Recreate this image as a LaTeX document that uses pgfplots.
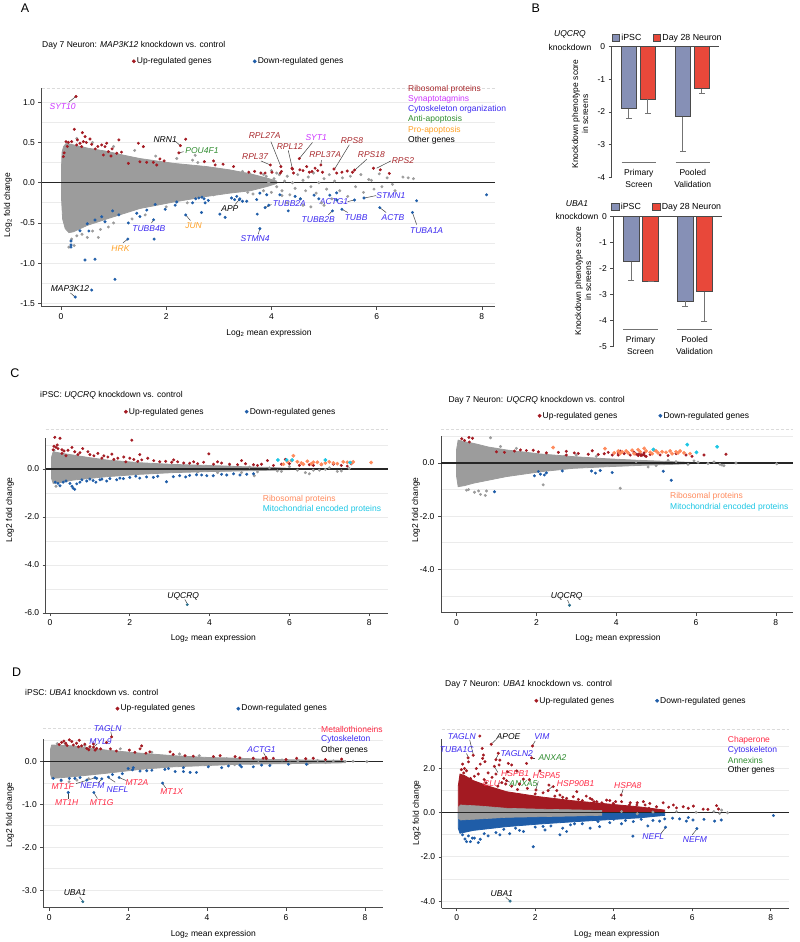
\documentclass[border=0pt]{standalone}
\usepackage{fontspec}
\setmainfont{Liberation Sans}
\setsansfont{Liberation Sans}
\usepackage{pgfplots}
\pgfplotsset{compat=1.18}
\definecolor{upred}{HTML}{A31A22}
\definecolor{downblue}{HTML}{1F5DA8}
\definecolor{cloudgray}{HTML}{9C9C9C}
\definecolor{ribored}{HTML}{A8282C}
\definecolor{sytmag}{HTML}{CC33FF}
\definecolor{cytoblue}{HTML}{3B28F0}
\definecolor{antigreen}{HTML}{2E8B2E}
\definecolor{proorange}{HTML}{FFA024}
\definecolor{ribocoral}{HTML}{FF8A5C}
\definecolor{mitocyan}{HTML}{1CC6E4}
\definecolor{chapred}{HTML}{FF2A45}
\definecolor{barblue}{HTML}{8690B6}
\definecolor{barred}{HTML}{E8483A}
\definecolor{gridgray}{HTML}{EBEBEB}
\definecolor{axisgray}{HTML}{4A4A4A}
\definecolor{kdteal}{HTML}{2B6F8C}
\newcommand{\fs}{\fontsize{8.5}{10}\selectfont}
\newcommand{\fsb}{\fontsize{8.8}{10.4}\selectfont}
\newcommand{\fl}{\fontsize{12.5}{14}\selectfont}
\newcommand{\gap}[1]{\mbox{}\hspace*{#1}\mbox{}}
\tikzset{gl/.style={font=\fs\itshape, inner sep=0.5pt},
  ld/.style={draw=black!75, line width=0.5pt},
  tx/.style={font=\fs, inner sep=0pt},
  dsh/.style={draw=black!14, dashed, dash pattern=on 3pt off 2pt, line width=0.8pt}}
\pgfplotsset{ma/.style={
  scale only axis, clip=false,
  axis x line*=bottom, axis y line*=left,
  axis line style={draw=axisgray, line width=0.9pt, -},
  tick style={draw=axisgray, line width=0.7pt},
  tick align=outside, major tick length=3pt, minor tick length=0pt,
  xtick={0,2,4,6,8}, xticklabels={0,2,4,6,8},
  tick label style={font=\fs},
  ymajorgrids, yminorgrids,
  major grid style={draw=gridgray, line width=0.9pt},
  minor grid style={draw=gridgray, line width=0.9pt},
  legend columns=2,
  legend style={draw=none, fill=none, font=\fs, anchor=west, inner sep=0pt, nodes={inner sep=1.2pt}},
  legend image code/.code={\fill (0pt,0pt) circle (1.7pt);}},
  pt/.style={only marks, mark=*, mark size=1.3pt},
  ptb/.style={only marks, mark=*, mark size=1.7pt},
  bp/.style={scale only axis, clip=false, axis x line*=top, axis y line*=left, xtick=\empty,
  tick align=outside, major tick length=3pt, tick style={draw=axisgray, line width=0.7pt},
  axis line style={draw=axisgray, line width=0.9pt,-}, tick label style={font=\fs},
  ybar, bar width=15.7pt, bar shift=0pt, legend columns=2,
  legend style={draw=none, fill=none, font=\fsb, anchor=west, inner sep=0pt, nodes={inner sep=1.5pt}},
  legend image code/.code={\draw[#1, line width=0.8pt] (-3.6pt,-3.6pt) rectangle (3.6pt,3.6pt);}},
  eb/.style={error bars/.cd, y dir=minus, y explicit, error bar style={draw=black!55, line width=1pt},
  error mark options={rotate=90, mark size=3pt, draw=black!55, line width=1pt}}
}
\begin{document}
\begin{tikzpicture}
\useasboundingbox (0pt,0pt) rectangle (800pt,-942pt);
% ================= PANEL A =================
\begin{axis}[ma, at={(41.5pt,-88pt)}, anchor=north west, width=453.5pt, height=218.7pt,
 xmin=-0.371, xmax=8.25, ymin=-1.54, ymax=1.176,
 ytick={-1.5,-1,-0.5,0,0.5,1}, yticklabels={-1.5,-1.0,-0.5,0.0,0.5,1.0},
 minor ytick={-1.25,-0.75,-0.25,0.25,0.75},
 legend style={at={(0.199,1.122)}}]
\addplot[forget plot, fill=cloudgray, draw=cloudgray, line width=0.8pt] coordinates {
(0.02,0.38) (0.05,0.45) (0.1,0.49) (0.234,0.47) (0.5,0.43) (0.87,0.39) (1.2,0.34) (1.5,0.30) (2.14,0.24) (2.77,0.2) (3.2,0.16) (3.6,0.11) (3.9,0.06) (4.1,0.02)
(4.1,-0.01) (3.9,-0.05) (3.6,-0.1) (3.2,-0.13) (2.77,-0.17) (2.14,-0.24) (1.5,-0.32) (0.87,-0.45) (0.5,-0.53) (0.234,-0.61) (0.15,-0.62) (0.08,-0.57) (0.03,-0.45) (0.01,-0.2) (0.01,0.2)} -- cycle;
\addplot[forget plot, pt, color=cloudgray] coordinates {
(3.6,0.1) (3.7,-0.05) (3.75,0.05) (3.85,-0.1) (3.9,0.08) (3.95,0.0) (4.0,-0.12) (4.05,0.05) (4.1,-0.05) (4.15,0.1) (4.2,-0.1) (4.25,0.02) (4.3,0.08) (4.35,-0.15) (4.4,0.0) (4.45,-0.07) (4.5,0.1) (4.55,-0.2) (4.6,0.03) (4.65,-0.1) (4.7,0.07) (4.75,-0.05) (4.8,0.12) (4.85,-0.13) (4.9,0.0) (4.95,-0.25) (5.0,0.05) (5.05,-0.08) (5.1,0.1) (5.15,-0.2) (5.2,0.02) (5.3,-0.1) (5.35,0.06) (5.45,-0.17) (5.5,0.08) (5.6,-0.05) (5.7,0.1) (5.75,-0.12) (5.85,0.04) (5.95,-0.08) (6.05,0.11) (6.1,-0.05) (6.2,0.06) (6.35,-0.1) (6.5,0.07) (6.6,0.06) (6.7,0.05) (5.9,0.03) (6.3,-0.02) (4.0,0.15) (4.3,-0.25) (4.6,-0.28) (5.0,-0.28) (3.8,0.12) (3.5,0.05) (3.55,-0.12) (3.3,0.12) (3.2,-0.1) (3.0,0.15) (2.9,-0.15) (4.75,-0.3) (3.45,0.14) (3.65,-0.14) (3.85,0.1) (4.1,0.12) (4.2,-0.16)
(0.2,-0.7) (0.25,-0.78) (0.3,-0.66) (0.4,-0.64) (0.6,-0.6) (0.75,-0.58) (1.0,-0.5) (0.15,-0.8) (1.35,-0.45) (1.6,-0.4) (0.5,-0.68) (0.9,-0.55) (0.71,-0.68) (0.3,0.55) (0.6,0.5) (1.0,0.45) (1.4,0.4) (1.8,0.33) (2.2,0.3) (2.5,0.28) (2.55,0.34) (2.6,0.25) (2.4,-0.25) (2.0,-0.3)};
\addplot[forget plot, black!85, line width=1.3pt] coordinates {(-0.371,0) (8.25,0)};
\addplot[pt, color=upred] coordinates {
(0.253,0.663) (0.406,0.621) (0.457,0.572) (0.551,0.543) (0.095,0.51) (0.139,0.502) (0.203,0.51) (0.311,0.531) (0.361,0.49) (0.424,0.51) (0.298,0.469) (0.393,0.448) (0.583,0.477) (0.773,0.469) (0.868,0.49) (0.836,0.448) (0.9,0.386) (0.805,0.344) (0.95,0.332) (1.1,0.531) (1.47,0.49) (1.566,0.448) (1.628,0.253) (1.755,0.253) (1.82,0.22) (1.88,0.295) (1.96,0.27) (1.5,0.26) (1.28,0.24) (1.06,0.365) (0.044,0.324) (0.06,0.37) (2.24,0.37) (2.27,0.46) (2.37,0.54) (2.725,0.261) (2.93,0.22) (3.08,0.23) (2.9,0.27) (3.28,0.2) (3.57,0.13) (3.68,0.14) (3.8,0.12) (3.88,0.12) (3.98,0.22) (4.01,0.13) (4.18,0.2) (4.19,0.14) (4.17,0.12) (4.39,0.18) (4.42,0.12) (4.4,0.17) (4.53,0.3) (4.54,0.16) (4.6,0.15) (4.67,0.20) (4.72,0.13) (4.77,0.14) (4.83,0.18) (4.88,0.15) (4.94,0.22) (4.97,0.13) (5.19,0.17) (5.24,0.12) (5.34,0.13) (5.44,0.145) (5.54,0.13) (5.58,0.157) (5.94,0.18) (6.07,0.16) (6.24,0.115) (0.12,0.45) (0.7,0.45) (0.97,0.42) (1.15,0.38) (0.65,0.42) (0.48,0.5) (0.285,1.07)};
\addlegendentry{Up-regulated genes\gap{40pt}}
\addplot[pt, color=downblue] coordinates {
(0.19,-0.724) (0.19,-0.774) (0.19,-0.80) (0.456,-0.96) (0.646,-0.95) (1.026,-1.2) (0.583,-1.333) (0.27,-1.42) (0.36,-0.597) (0.5,-0.51) (0.53,-0.6) (0.646,-0.463) (0.773,-0.423) (0.836,-0.485) (1.28,-0.5) (1.27,-0.70) (1.44,-0.38) (1.5,-0.42) (1.63,-0.34) (1.79,-0.27) (1.76,-0.46) (1.77,-0.7) (1.98,-0.33) (2.2,-0.24) (2.17,-0.28) (2.37,-0.40) (2.5,-0.25) (2.56,-0.2) (2.62,-0.19) (2.68,-0.18) (2.74,-0.25) (2.67,-0.37) (2.72,-0.2) (2.8,-0.22) (3.02,-0.39) (3.12,-0.43) (3.24,-0.19) (3.3,-0.21) (3.34,-0.17) (3.4,-0.2) (3.39,-0.21) (3.45,-0.23) (3.53,-0.23) (3.72,-0.21) (3.73,-0.39) (3.78,-0.13) (3.78,-0.57) (3.88,-0.31) (3.95,-0.28) (3.91,-0.15) (4.16,-0.15) (4.32,-0.35) (4.45,-0.17) (4.55,-0.2) (4.81,-0.155) (4.9,-0.2) (5.11,-0.155) (5.24,-0.126) (5.24,-0.215) (5.16,-0.35) (5.34,-0.33) (5.58,-0.215) (5.76,-0.19) (6.06,-0.31) (6.68,-0.37) (6.76,-0.224) (8.09,-0.15) (0.98,-0.35) (1.1,-0.4)};
\addlegendentry{Down-regulated genes}
\draw[dsh] (axis cs:-0.371,1.176) -- (axis cs:8.25,1.176);
\node[gl, text=sytmag] at (axis cs:0.03,0.94) {SYT10}; \draw[ld] (axis cs:0.15,1.0) -- (axis cs:0.27,1.065);
\node[gl] at (axis cs:1.98,0.54) {NRN1}; \draw[ld] (axis cs:2.18,0.51) -- (axis cs:2.27,0.46);
\node[gl, text=antigreen] at (axis cs:2.68,0.40) {POU4F1}; \draw[ld] (axis cs:2.33,0.385) -- (axis cs:2.24,0.37);
\node[gl, text=ribored] at (axis cs:3.87,0.58) {RPL27A}; \draw[ld] (axis cs:3.99,0.51) -- (axis cs:4.18,0.2);
\node[gl, text=ribored] at (axis cs:4.35,0.45) {RPL12}; \draw[ld] (axis cs:4.32,0.4) -- (axis cs:4.4,0.17);
\node[gl, text=sytmag] at (axis cs:4.85,0.56) {SYT1}; \draw[ld] (axis cs:4.78,0.5) -- (axis cs:4.53,0.3);
\node[gl, text=ribored] at (axis cs:3.69,0.33) {RPL37}; \draw[ld] (axis cs:3.8,0.27) -- (axis cs:3.98,0.22);
\node[gl, text=ribored] at (axis cs:5.02,0.35) {RPL37A}; \draw[ld] (axis cs:4.95,0.28) -- (axis cs:4.94,0.22);
\node[gl, text=ribored] at (axis cs:5.53,0.52) {RPS8}; \draw[ld] (axis cs:5.48,0.47) -- (axis cs:5.21,0.18);
\node[gl, text=ribored] at (axis cs:5.9,0.355) {RPS18}; \draw[ld] (axis cs:5.81,0.29) -- (axis cs:5.59,0.16);
\node[gl, text=ribored] at (axis cs:6.5,0.28) {RPS2}; \draw[ld] (axis cs:6.27,0.27) -- (axis cs:6.0,0.18);
\node[gl] at (axis cs:3.21,-0.32) {APP}; \draw[ld] (axis cs:3.31,-0.27) -- (axis cs:3.39,-0.21);
\node[gl, text=cytoblue] at (axis cs:4.34,-0.26) {TUBB2A}; \draw[ld] (axis cs:4.0,-0.27) -- (axis cs:3.88,-0.31);
\node[gl, text=cytoblue] at (axis cs:5.19,-0.24) {ACTG1}; \draw[ld] (axis cs:5.45,-0.235) -- (axis cs:5.57,-0.215);
\node[gl, text=cytoblue] at (axis cs:6.27,-0.16) {STMN1}; \draw[ld] (axis cs:5.99,-0.16) -- (axis cs:5.77,-0.19);
\node[gl, text=cytoblue] at (axis cs:4.89,-0.46) {TUBB2B}; \draw[ld] (axis cs:5.08,-0.40) -- (axis cs:5.16,-0.35);
\node[gl, text=cytoblue] at (axis cs:5.61,-0.43) {TUBB}; \draw[ld] (axis cs:5.45,-0.37) -- (axis cs:5.34,-0.33);
\node[gl, text=cytoblue] at (axis cs:6.31,-0.435) {ACTB}; \draw[ld] (axis cs:6.18,-0.37) -- (axis cs:6.06,-0.31);
\node[gl, text=cytoblue] at (axis cs:6.95,-0.59) {TUBA1A}; \draw[ld] (axis cs:6.76,-0.52) -- (axis cs:6.68,-0.37);
\node[gl, text=cytoblue] at (axis cs:3.69,-0.70) {STMN4}; \draw[ld] (axis cs:3.75,-0.64) -- (axis cs:3.78,-0.57);
\node[gl, text=proorange] at (axis cs:2.52,-0.53) {JUN}; \draw[ld] (axis cs:2.46,-0.47) -- (axis cs:2.37,-0.40);
\node[gl, text=cytoblue] at (axis cs:1.67,-0.575) {TUBB4B}; \draw[ld] (axis cs:1.72,-0.5) -- (axis cs:1.76,-0.46);
\node[gl, text=proorange] at (axis cs:1.13,-0.815) {HRK}; \draw[ld] (axis cs:1.18,-0.745) -- (axis cs:1.27,-0.70);
\node[gl] at (axis cs:0.17,-1.31) {MAP3K12}; \draw[ld] (axis cs:0.18,-1.37) -- (axis cs:0.27,-1.42);
\end{axis}
\node[font=\fl] at (25pt,-8pt) {A};
\node[tx, anchor=west] at (42pt,-45pt) {Day 7 Neuron: \textit{MAP3K12} knockdown vs. control};
\node[tx, rotate=90] at (8pt,-205pt) {Log\textsubscript{2} fold change};
\node[tx] at (269pt,-333pt) {Log\textsubscript{2} mean expression};
\node[tx, anchor=west, text=ribored] at (408pt,-89pt) {Ribosomal proteins};
\node[tx, anchor=west, text=sytmag] at (408pt,-99.3pt) {Synaptotagmins};
\node[tx, anchor=west, text=cytoblue] at (408pt,-109.7pt) {Cytoskeleton organization};
\node[tx, anchor=west, text=antigreen] at (408pt,-119.7pt) {Anti-apoptosis};
\node[tx, anchor=west, text=proorange] at (408pt,-130pt) {Pro-apoptosis};
\node[tx, anchor=west] at (408pt,-140.3pt) {Other genes};
% ================= PANEL B top =================
\begin{axis}[bp, at={(611.7pt,-46.7pt)}, anchor=north west, width=107.3pt, height=130.6pt,
 xmin=0, xmax=107.3, ymin=-4, ymax=0, ytick={-4,-3,-2,-1,0}, yticklabels={-4,-3,-2,-1,0},
 legend style={at={(0.0,1.069)}}]
\addplot[fill=barblue, draw=axisgray, line width=0.8pt, eb] coordinates {(17.15,-1.90) +- (0,0.31) (71.15,-2.14) +- (0,1.07)};
\addlegendentry{iPSC\gap{10pt}}
\addplot[fill=barred, draw=axisgray, line width=0.8pt, eb] coordinates {(36.15,-1.61) +- (0,0.45) (90.15,-1.29) +- (0,0.13)};
\addlegendentry{Day 28 Neuron}
\end{axis}
\node[tx, font=\fs\itshape] at (570pt,-34.7pt) {UQCRQ};
\node[tx] at (570pt,-47.3pt) {knockdown};
\node[tx, rotate=90, align=center] at (580pt,-114pt) {Knockdown phenotype score\\in screens};
\draw[draw=black!55, line width=0.9pt] (621.7pt,-162.7pt) -- (656pt,-162.7pt) (675.7pt,-162.7pt) -- (710pt,-162.7pt);
\node[tx, align=center] at (638.8pt,-178.5pt) {Primary\\[1.5pt]Screen};
\node[tx, align=center] at (692.8pt,-178.5pt) {Pooled\\[1.5pt]Validation};
\node[font=\fl] at (535.7pt,-8pt) {B};
% ================= PANEL B bottom =================
\begin{axis}[bp, at={(613.3pt,-216.7pt)}, anchor=north west, width=108.4pt, height=130pt,
 xmin=0, xmax=108.4, ymin=-5, ymax=0, ytick={-5,-4,-3,-2,-1,0}, yticklabels={-5,-4,-3,-2,-1,0},
 bar width=15.6pt, legend style={at={(-0.02,1.077)}}]
\addplot[fill=barblue, draw=axisgray, line width=0.8pt, eb] coordinates {(17.85,-1.73) +- (0,0.72) (71.85,-3.24) +- (0,0.2)};
\addlegendentry{iPSC\gap{10pt}}
\addplot[fill=barred, draw=axisgray, line width=0.8pt, eb] coordinates {(37.2,-2.47) +- (0,0.03) (91.05,-2.88) +- (0,1.16)};
\addlegendentry{Day 28 Neuron}
\end{axis}
\node[tx, font=\fs\itshape] at (577pt,-203.3pt) {UBA1};
\node[tx] at (577pt,-216pt) {knockdown};
\node[tx, rotate=90, align=center] at (583pt,-281pt) {Knockdown phenotype score\\in screens};
\draw[draw=black!55, line width=0.9pt] (623.3pt,-329.3pt) -- (657.7pt,-329.3pt) (677.3pt,-329.3pt) -- (711.7pt,-329.3pt);
\node[tx, align=center] at (640.5pt,-345.3pt) {Primary\\[1.5pt]Screen};
\node[tx, align=center] at (694.5pt,-345.3pt) {Pooled\\[1.5pt]Validation};
% ================= PANEL C left =================
\begin{axis}[ma, at={(45.7pt,-438.3pt)}, anchor=north west, width=342.3pt, height=175pt,
 xmin=-0.108, xmax=8.471, ymin=-6.0125, ymax=1.279,
 ytick={-6,-4,-2,0}, yticklabels={-6.0,-4.0,-2.0,0.0}, minor ytick={-5,-3,-1,1},
 legend style={at={(0.228,1.152)}}]
\addplot[forget plot, fill=cloudgray, draw=cloudgray, line width=0.8pt] coordinates {
(0.04,0.5) (0.08,0.72) (0.3,0.65) (0.585,0.58) (1.0,0.47) (1.42,0.375) (2.26,0.26) (3.09,0.19) (3.93,0.15) (4.76,0.1) (5.6,0.06) (6.1,0.02)
(6.1,-0.02) (5.6,-0.05) (4.76,-0.08) (3.93,-0.11) (3.09,-0.15) (2.26,-0.22) (1.42,-0.32) (0.585,-0.46) (0.3,-0.55) (0.08,-0.6) (0.04,-0.4)} -- cycle;
\addplot[forget plot, pt, color=cloudgray] coordinates {
(5.2,-0.12) (5.5,0.05) (5.7,-0.08) (5.8,-0.1) (6.0,0.1) (6.2,-0.05) (6.4,-0.15) (6.6,-0.05) (6.9,-0.02) (7.0,0.05) (7.2,-0.1) (7.5,0.02) (4.8,-0.15) (5.0,0.08) (5.12,-0.28) (6.5,-0.2) (6.75,-0.05) (7.3,-0.08) (3.7,-0.12) (4.2,-0.15) (4.5,0.12) (0.15,-0.72) (0.1,0.78)};
\addplot[forget plot, black!85, line width=1.3pt] coordinates {(-0.108,0) (8.471,0)};
\addplot[pt, color=upred] coordinates {
(0.12,1.32) (0.25,1.28) (0.1,0.95) (0.15,0.9) (0.2,0.85) (0.3,0.8) (0.35,0.75) (0.45,0.78) (0.55,0.9) (0.62,0.72) (0.75,0.68) (0.82,0.85) (0.95,0.72) (1.0,0.6) (1.1,0.55) (1.2,0.65) (1.35,0.55) (1.45,0.5) (1.55,0.62) (1.7,0.45) (1.85,0.5) (2.05,1.2) (2.1,0.4) (2.25,0.6) (2.3,0.38) (2.45,0.45) (2.6,0.35) (2.75,0.3) (2.9,0.32) (3.05,0.28) (3.2,0.3) (3.35,0.25) (3.5,0.24) (3.7,0.22) (3.85,0.28) (3.98,0.63) (4.1,0.2) (4.3,0.25) (4.5,0.2) (4.7,0.18) (4.9,0.22) (5.1,0.18) (5.3,0.2) (5.45,0.35) (5.6,0.15) (5.8,0.2) (6.0,0.22) (6.25,0.15) (6.5,0.18) (7.1,0.2) (7.3,0.15) (7.55,0.22) (0.4,0.55) (0.7,0.6) (1.3,0.45) (1.6,0.4) (2.0,0.45) (2.2,0.32) (4.8,0.35) (5.2,0.15) (5.9,0.4) (6.6,0.15) (6.8,0.18) (7.45,0.12) (3.6,0.3) (3.1,0.38) (4.2,0.3) (1.9,0.3) (0.3,0.65) (0.08,0.8) (0.18,1.0)};
\addlegendentry{Up-regulated genes\gap{40pt}}
\addplot[pt, color=downblue] coordinates {
(0.13,-0.55) (0.2,-0.6) (0.33,-0.55) (0.5,-0.6) (0.58,-0.8) (0.62,-0.85) (0.67,-0.62) (0.75,-0.55) (0.92,-0.5) (1.08,-0.48) (1.25,-0.45) (1.42,-0.5) (1.5,-0.4) (1.67,-0.45) (1.84,-0.4) (2.0,-0.35) (2.25,-0.38) (2.42,-0.33) (2.59,-0.35) (2.92,-0.53) (3.09,-0.32) (3.25,-0.28) (3.5,-0.27) (3.67,-0.24) (3.93,-0.28) (4.09,-0.28) (4.3,-0.22) (4.43,-0.25) (4.76,-0.25) (4.93,-0.22) (5.1,-0.2) (0.4,-0.5) (0.8,-0.45) (1.15,-0.55) (1.3,-0.42) (1.75,-0.38) (2.15,-0.3) (2.7,-0.3) (3.4,-0.33) (3.8,-0.25) (4.6,-0.2) (0.25,-0.7) (0.55,-0.72) (1.0,-0.42)};
\addlegendentry{Down-regulated genes}
\addplot[forget plot, ptb, color=ribocoral] coordinates {
(6.1,0.55) (5.95,0.3) (6.2,0.3) (6.3,0.25) (6.45,0.32) (6.55,0.22) (6.7,0.28) (6.9,0.25) (7.0,0.3) (7.2,0.22) (7.35,0.3) (7.45,0.28) (7.55,0.25) (7.6,0.3) (6.05,0.35) (6.35,0.2) (6.8,0.2) (7.1,0.25) (8.05,0.27) (5.85,0.2) (6.6,0.28)};
\addplot[forget plot, ptb, color=mitocyan] coordinates {(5.71,0.375) (5.93,0.375) (6.07,0.375) (6.9,0.375) (7.52,0.27)};
\addplot[forget plot, pt, color=kdteal] coordinates {(3.44,-5.65)};
\draw[dsh] (axis cs:-0.108,1.65) -- (axis cs:8.471,1.65);
\node[gl] at (axis cs:3.34,-5.32) {UQCRQ}; \draw[ld] (axis cs:3.38,-5.44) -- (axis cs:3.43,-5.58);
\end{axis}
\node[font=\fl] at (15pt,-373.3pt) {C};
\node[tx, anchor=west] at (40pt,-395.7pt) {iPSC: \textit{UQCRQ} knockdown vs. control};
\node[tx, rotate=90] at (10pt,-510pt) {Log2 fold change};
\node[tx] at (213.3pt,-638.3pt) {Log\textsubscript{2} mean expression};
\node[tx, anchor=west, text=ribocoral] at (262.7pt,-499pt) {Ribosomal proteins};
\node[tx, anchor=west, text=mitocyan] at (262.7pt,-509pt) {Mitochondrial encoded proteins};
% ================= PANEL C right =================
\begin{axis}[ma, at={(441pt,-436.4pt)}, anchor=north west, width=352pt, height=176.3pt,
 xmin=-0.39, xmax=8.43, ymin=-5.628, ymax=1.0,
 ytick={-4,-2,0}, yticklabels={-4.0,-2.0,0.0}, minor ytick={-5,-3,-1,1},
 legend style={at={(0.274,1.117)}}]
\addplot[forget plot, fill=cloudgray, draw=cloudgray, line width=0.8pt] coordinates {
(0.0,0.5) (0.04,0.86) (0.2,0.8) (0.42,0.74) (0.8,0.6) (1.25,0.49) (2.09,0.34) (2.92,0.24) (3.76,0.16) (4.59,0.1) (5.43,0.05) (5.9,0.02)
(5.9,-0.02) (5.43,-0.05) (4.59,-0.09) (3.76,-0.14) (2.92,-0.2) (2.09,-0.33) (1.25,-0.51) (0.42,-0.76) (0.2,-0.85) (0.04,-0.89) (0.0,-0.5)} -- cycle;
\addplot[forget plot, pt, color=cloudgray] coordinates {
(0.85,0.95) (0.3,-1.0) (0.45,-1.1) (0.55,-1.05) (0.6,-1.18) (0.72,-1.22) (0.75,-1.05) (2.17,-0.82) (4.1,-0.95) (6.6,-0.05) (6.65,-0.08) (6.05,0.03) (6.3,-0.02) (5.8,-0.05) (5.5,0.05) (7.0,0.0) (8.02,-0.03) (5.0,-0.1) (5.3,0.1) (4.5,0.05) (4.8,-0.15) (6.7,-0.1) (5.95,0.08) (6.45,0.04) (3.5,0.25) (3.0,0.3) (2.7,0.25) (1.1,0.62) (1.5,0.55) (0.25,-1.02)};
\addplot[forget plot, black!85, line width=1.3pt] coordinates {(-0.39,0) (8.43,0)};
\addplot[pt, color=upred] coordinates {
(0.13,0.91) (0.31,0.96) (0.4,0.93) (0.32,0.79) (0.2,0.85) (1.45,0.45) (1.6,0.49) (1.75,0.47) (1.92,0.48) (2.25,0.38) (2.55,0.4) (2.75,0.44) (2.75,0.3) (2.95,0.38) (3.3,0.33) (3.4,0.46) (3.55,0.32) (3.7,0.35) (3.8,0.4) (4.05,0.3) (4.1,0.45) (4.2,0.35) (4.3,0.38) (4.35,0.3) (4.45,0.4) (4.55,0.28) (4.6,0.35) (4.65,0.3) (4.7,0.38) (4.75,0.25) (4.85,0.32) (5.1,0.3) (5.3,0.28) (5.5,0.35) (5.75,0.3) (5.9,0.25) (6.2,0.3) (6.75,0.33) (1.0,0.42) (1.2,0.4) (2.05,0.42) (3.05,0.36) (3.9,0.3) (4.5,0.33) (4.05,0.38)};
\addlegendentry{Up-regulated genes\gap{40pt}}
\addplot[pt, color=downblue] coordinates {
(0.95,-1.08) (1.95,-0.48) (2.05,-0.32) (2.1,-0.42) (2.2,-0.45) (2.25,-0.37) (2.65,-0.3) (3.38,-0.3) (3.48,-0.38) (3.6,-0.28) (3.9,-0.36) (5.18,-0.31) (5.38,-0.65)};
\addlegendentry{Down-regulated genes}
\addplot[forget plot, ptb, color=ribocoral] coordinates {
(2.42,0.58) (3.72,0.54) (4.1,0.36) (4.15,0.42) (4.25,0.45) (4.3,0.38) (4.4,0.48) (4.45,0.35) (4.55,0.5) (4.6,0.42) (4.7,0.55) (4.75,0.45) (4.85,0.4) (4.9,0.35) (5.0,0.45) (5.05,0.38) (5.15,0.42) (5.25,0.4) (5.35,0.45) (5.4,0.35) (5.5,0.42) (5.55,0.38) (5.7,0.38) (5.85,0.35) (5.6,0.45) (4.95,0.48) (4.05,0.45) (3.95,0.38)};
\addplot[forget plot, pt, color=upred] coordinates {(4.55,0.33) (4.62,0.28) (4.68,0.32) (4.72,0.27)};
\addplot[forget plot, ptb, color=mitocyan] coordinates {(4.93,0.51) (5.78,0.69) (6.01,0.4) (6.53,0.61)};
\addplot[forget plot, pt, color=kdteal] coordinates {(2.83,-5.35)};
\draw[dsh] (axis cs:-0.39,1.27) -- (axis cs:8.43,1.27);
\node[gl] at (axis cs:2.76,-5.03) {UQCRQ}; \draw[ld] (axis cs:2.78,-5.15) -- (axis cs:2.82,-5.28);
\end{axis}
\node[tx, anchor=west] at (448.3pt,-400pt) {Day 7 Neuron: \textit{UQCRQ} knockdown vs. control};
\node[tx, rotate=90] at (416pt,-510pt) {Log2 fold change};
\node[tx] at (618pt,-638.3pt) {Log\textsubscript{2} mean expression};
\node[tx, anchor=west, text=ribocoral] at (670pt,-496.7pt) {Ribosomal proteins};
\node[tx, anchor=west, text=mitocyan] at (670pt,-507.7pt) {Mitochondrial encoded proteins};
% ================= PANEL D left =================
\begin{axis}[ma, at={(43.3pt,-739pt)}, anchor=north west, width=340pt, height=168.7pt,
 xmin=-0.152, xmax=8.466, ymin=-3.411, ymax=0.53,
 ytick={-3,-2,-1,0}, yticklabels={-3.0,-2.0,-1.0,0.0}, minor ytick={-2.5,-1.5,-0.5,0.5},
 legend style={at={(0.212,1.18)}}]
\addplot[forget plot, fill=cloudgray, draw=cloudgray, line width=0.8pt] coordinates {
(0.034,0.3) (0.06,0.39) (0.61,0.37) (1.45,0.27) (2.3,0.2) (3.14,0.14) (3.99,0.1) (4.83,0.08) (5.68,0.05) (7.37,0.03) (7.5,0.02)
(7.5,-0.02) (7.37,-0.03) (5.68,-0.05) (4.83,-0.06) (3.99,-0.09) (3.14,-0.12) (2.3,-0.18) (1.45,-0.27) (0.61,-0.35) (0.06,-0.39) (0.034,-0.3)} -- cycle;
\addplot[forget plot, pt, color=cloudgray] coordinates {
(0.3,-0.45) (0.5,-0.47) (0.7,-0.43) (1.0,-0.4) (4.9,0.05) (5.1,-0.04) (5.3,0.03) (5.6,-0.05) (5.9,0.04) (6.1,-0.03) (6.3,0.02) (6.55,-0.05) (6.8,0.03) (7.0,-0.02) (7.2,0.02) (7.5,0.0) (7.7,0.01) (8.05,0.0) (4.5,0.07) (4.7,-0.07) (0.2,0.42) (0.4,0.42) (0.9,0.38) (1.8,0.3) (2.6,0.22) (3.3,0.18) (3.8,0.14)};
\addplot[forget plot, black!85, line width=1.3pt] coordinates {(-0.152,0) (8.466,0)};
\addplot[pt, color=upred] coordinates {
(0.31,0.45) (0.37,0.48) (0.42,0.43) (0.51,0.51) (0.57,0.47) (0.61,0.39) (0.69,0.43) (0.74,0.35) (0.82,0.37) (0.9,0.41) (0.95,0.31) (1.03,0.35) (1.12,0.41) (1.16,0.27) (1.2,0.31) (1.45,0.45) (2.03,0.27) (2.17,0.22) (2.3,0.3) (2.34,0.37) (2.45,0.2) (2.55,0.23) (3.06,0.23) (3.14,0.17) (3.44,0.14) (3.65,0.13) (4.16,0.12) (4.33,0.14) (4.71,0.12) (4.83,0.09) (5.17,0.08) (5.42,0.08) (5.49,0.1) (5.68,0.08) (6.27,0.08) (6.69,0.08) (7.41,0.06) (1.55,0.3) (1.7,0.25) (0.25,0.4) (0.45,0.38) (1.3,0.3) (1.0,0.28) (5.5,0.07) (6.0,0.05) (6.5,0.07) (7.0,0.05) (0.76,0.5) (1.58,0.58) (1.12,0.34)};
\addlegendentry{Up-regulated genes\gap{40pt}}
\addplot[pt, color=downblue] coordinates {
(0.1,-0.39) (0.51,-0.39) (0.65,-0.39) (0.78,-0.37) (0.95,-0.43) (1.16,-0.37) (1.33,-0.4) (1.5,-0.36) (1.77,-0.37) (2.87,-0.5) (0.48,-0.72) (1.13,-0.72) (2.0,-0.16) (2.11,-0.19) (2.13,-0.14) (2.47,-0.21) (2.93,-0.18) (3.02,-0.16) (3.19,-0.23) (3.4,-0.14) (3.4,-0.23) (3.57,-0.25) (3.73,-0.25) (4.03,-0.12) (4.37,-0.14) (4.54,-0.1) (4.83,-0.08) (4.87,-0.12) (5.17,-0.12) (5.38,-0.08) (5.59,-0.09) (6.06,-0.06) (6.52,-0.06) (0.3,-0.43) (1.2,-0.39) (1.6,-0.3) (1.85,-0.28) (2.3,-0.22) (2.6,-0.2)};
\addlegendentry{Down-regulated genes}
\addplot[forget plot, pt, color=kdteal] coordinates {(0.85,-3.27)};
\draw[dsh] (axis cs:-0.152,0.78) -- (axis cs:8.466,0.78);
\node[gl, text=cytoblue] at (axis cs:1.48,0.78) {TAGLN}; \draw[ld] (axis cs:1.56,0.7) -- (axis cs:1.58,0.6);
\node[gl, text=cytoblue] at (axis cs:1.3,0.48) {MYL9}; \draw[ld] (axis cs:1.22,0.42) -- (axis cs:1.13,0.35);
\node[gl, text=cytoblue] at (axis cs:5.38,0.29) {ACTG1}; \draw[ld] (axis cs:5.43,0.21) -- (axis cs:5.49,0.11);
\node[gl, text=chapred] at (axis cs:0.34,-0.58) {MT1F}; \draw[ld] (axis cs:0.68,-0.51) -- (axis cs:1.15,-0.38);
\node[gl, text=chapred] at (axis cs:0.44,-0.95) {MT1H}; \draw[ld] (axis cs:0.48,-0.86) -- (axis cs:0.48,-0.74);
\node[gl, text=cytoblue] at (axis cs:1.09,-0.56) {NEFM}; \draw[ld] (axis cs:1.24,-0.49) -- (axis cs:1.32,-0.42);
\node[gl, text=chapred] at (axis cs:1.33,-0.95) {MT1G}; \draw[ld] (axis cs:1.22,-0.86) -- (axis cs:1.14,-0.74);
\node[gl, text=cytoblue] at (axis cs:1.73,-0.64) {NEFL}; \draw[ld] (axis cs:1.67,-0.48) -- (axis cs:1.51,-0.38);
\node[gl, text=chapred] at (axis cs:2.22,-0.49) {MT2A}; \draw[ld] (axis cs:1.95,-0.44) -- (axis cs:1.79,-0.38);
\node[gl, text=chapred] at (axis cs:3.1,-0.7) {MT1X}; \draw[ld] (axis cs:2.95,-0.61) -- (axis cs:2.88,-0.52);
\node[gl] at (axis cs:0.65,-3.07) {UBA1}; \draw[ld] (axis cs:0.77,-3.16) -- (axis cs:0.84,-3.24);
\end{axis}
\node[font=\fl] at (16.7pt,-672.3pt) {D};
\node[tx, anchor=west] at (25pt,-692.3pt) {iPSC: \textit{UBA1} knockdown vs. control};
\node[tx, rotate=90] at (10pt,-815pt) {Log2 fold change};
\node[tx] at (213.3pt,-934.3pt) {Log\textsubscript{2} mean expression};
\node[tx, anchor=west, text=chapred] at (321pt,-729.3pt) {Metallothioneins};
\node[tx, anchor=west, text=cytoblue] at (321pt,-739.7pt) {Cytoskeleton};
\node[tx, anchor=west] at (321pt,-750pt) {Other genes};
% ================= PANEL D right =================
\begin{axis}[ma, at={(441.7pt,-739pt)}, anchor=north west, width=347.6pt, height=169.3pt,
 xmin=-0.382, xmax=8.474, ymin=-4.326, ymax=3.335,
 ytick={-4,-2,0,2}, yticklabels={-4.0,-2.0,0.0,2.0}, minor ytick={-3,-1,1,3},
 legend style={at={(0.266,1.226)}}]
\addplot[forget plot, fill=upred, draw=upred, line width=0.8pt] coordinates {
(0.04,0) (0.04,1.2) (0.084,1.75) (0.2,1.68) (0.424,1.45) (0.85,1.18) (1.27,0.95) (2.12,0.72) (2.97,0.54) (3.82,0.4) (4.67,0.26) (5.3,0.12) (5.3,0)} -- cycle;
\addplot[forget plot, fill=downblue, draw=downblue, line width=0.8pt] coordinates {
(0.04,0) (0.04,-0.7) (0.084,-0.93) (0.424,-0.8) (1.27,-0.63) (2.12,-0.51) (2.97,-0.41) (3.82,-0.32) (4.67,-0.23) (5.3,-0.12) (5.3,0)} -- cycle;
\addplot[forget plot, fill=cloudgray, draw=cloudgray, line width=0.6pt] coordinates {
(0.04,0.25) (0.1,0.35) (0.6,0.3) (1.27,0.2) (2.12,0.16) (2.97,0.13) (3.7,0.1) (3.7,-0.12) (2.97,-0.15) (2.12,-0.18) (1.27,-0.21) (0.6,-0.28) (0.1,-0.33) (0.04,-0.25)} -- cycle;
\addplot[forget plot, pt, color=cloudgray] coordinates {(6.75,0.12) (6.7,-0.03) (6.55,0.05) (6.9,0.0) (5.6,0.05) (6.1,0.02) (4.2,0.05) (4.6,-0.05) (5.0,0.03)};
\addplot[forget plot, black!85, line width=1.3pt] coordinates {(-0.382,0) (8.474,0)};
\addplot[pt, color=upred] coordinates {
(0.59,3.47) (0.88,3.1) (1.93,3.02) (0.42,2.6) (0.29,2.48) (1.0,2.4) (1.91,2.48) (0.65,2.91) (0.68,2.61) (0.66,2.46) (0.72,2.31) (1.06,2.69) (1.1,2.38) (1.08,2.16) (1.315,2.23) (1.4,2.16) (1.78,2.23) (0.96,2.1) (1.53,1.89) (1.7,1.52) (2.12,1.89) (2.02,1.03) (2.33,1.0) (2.46,1.18) (2.63,0.8) (2.97,0.72) (3.06,0.95) (3.4,0.65) (3.57,0.5) (3.82,0.57) (3.99,0.42) (4.19,0.8) (4.2,0.5) (4.42,0.45) (4.59,0.35) (4.755,0.5) (4.92,0.42) (5.09,0.27) (5.26,0.45) (5.52,0.35) (5.77,0.27) (6.03,0.3) (6.28,0.16) (6.62,0.32) (6.67,0.17) (1.15,1.36) (1.27,1.45) (0.15,2.2) (0.2,2.0) (0.3,2.3) (0.25,1.9) (0.5,2.0) (0.55,1.75) (0.6,2.2) (0.8,1.8) (0.9,1.6) (1.0,1.75) (1.2,1.55) (1.25,1.3) (1.4,1.2) (1.6,1.3) (1.8,1.1) (2.2,0.9) (2.5,0.75) (2.8,0.65) (3.2,0.55) (0.7,1.5) (0.35,1.55) (1.3,1.85) (1.85,1.5) (2.35,1.25) (3.5,0.5) (3.7,0.45) (4.4,0.35) (4.9,0.2) (5.4,0.25) (5.9,0.2) (6.4,0.15) (2.55,1.0) (3.1,0.6) (3.3,0.75) (3.9,0.55) (4.6,0.45) (0.12,1.95) (0.18,1.8) (0.45,1.65) (0.75,1.35) (1.05,1.2) (1.55,1.05) (2.0,0.85) (2.7,0.7) (3.45,0.6) (4.05,0.5) (4.8,0.35) (5.6,0.22)};
\addlegendentry{Up-regulated genes\gap{40pt}}
\addplot[pt, color=downblue] coordinates {
(0.21,-1.19) (0.25,-1.31) (0.35,-1.31) (0.45,-1.15) (0.55,-1.35) (0.3,-1.05) (1.95,-1.54) (2.63,-1.0) (2.25,-0.78) (2.8,-0.85) (3.64,-0.63) (4.49,-1.06) (4.87,-0.6) (5.17,-0.38) (5.32,-0.66) (5.68,-0.28) (5.85,-0.38) (6.02,-0.33) (6.12,-0.72) (6.57,-0.38) (6.74,-0.33) (8.07,-0.13) (1.0,-0.9) (1.2,-0.75) (1.5,-0.7) (1.7,-0.85) (2.0,-0.65) (2.4,-0.6) (2.9,-0.55) (3.2,-0.5) (3.4,-0.7) (3.9,-0.45) (4.2,-0.5) (4.5,-0.4) (4.7,-0.3) (5.0,-0.35) (5.5,-0.25) (0.4,-1.15) (0.6,-1.2) (0.8,-1.05) (1.1,-1.0) (1.35,-0.95) (2.7,-0.7) (3.6,-0.4) (4.0,-0.3) (5.9,-0.22) (6.3,-0.3) (0.15,-1.0) (0.7,-0.95) (1.6,-0.8) (2.2,-0.62) (3.0,-0.5) (4.3,-0.35) (5.3,-0.28)};
\addlegendentry{Down-regulated genes}
\addplot[forget plot, pt, color=kdteal] coordinates {(1.36,-4.0)};
\draw[dsh] (axis cs:-0.382,3.77) -- (axis cs:8.474,3.77);
\node[gl, text=cytoblue] at (axis cs:0.13,3.44) {TAGLN}; \draw[ld] (axis cs:0.33,3.3) -- (axis cs:0.42,2.65);
\node[gl, text=cytoblue] at (axis cs:0.0,2.84) {TUBA1C}; \draw[ld] (axis cs:0.25,2.68) -- (axis cs:0.29,2.53);
\node[gl] at (axis cs:1.32,3.44) {APOE}; \draw[ld] (axis cs:1.01,3.32) -- (axis cs:0.9,3.14);
\node[gl, text=cytoblue] at (axis cs:2.17,3.44) {VIM}; \draw[ld] (axis cs:2.0,3.25) -- (axis cs:1.94,3.06);
\node[gl, text=cytoblue] at (axis cs:1.53,2.69) {TAGLN2}; \draw[ld] (axis cs:1.05,2.6) -- (axis cs:1.0,2.44);
\node[gl, text=antigreen] at (axis cs:2.44,2.5) {ANXA2}; \draw[ld] (axis cs:2.0,2.48) -- (axis cs:1.94,2.48);
\node[gl, text=chapred] at (axis cs:1.49,1.78) {HSPB1}; \draw[ld] (axis cs:1.05,1.82) -- (axis cs:0.97,2.06);
\node[gl, text=chapred] at (axis cs:0.89,1.3) {CLU}; \draw[ld] (axis cs:1.06,1.33) -- (axis cs:1.13,1.35);
\node[gl, text=antigreen] at (axis cs:1.7,1.33) {ANXA5}; \draw[ld] (axis cs:1.36,1.38) -- (axis cs:1.29,1.43);
\node[gl, text=chapred] at (axis cs:2.29,1.66) {HSPA5}; \draw[ld] (axis cs:2.08,1.42) -- (axis cs:2.02,1.07);
\node[gl, text=chapred] at (axis cs:3.03,1.3) {HSP90B1}; \draw[ld] (axis cs:2.44,1.19) -- (axis cs:2.34,1.04);
\node[gl, text=chapred] at (axis cs:4.36,1.25) {HSPA8}; \draw[ld] (axis cs:4.24,1.06) -- (axis cs:4.2,0.84);
\node[gl, text=cytoblue] at (axis cs:5.01,-1.08) {NEFL}; \draw[ld] (axis cs:5.2,-0.95) -- (axis cs:5.31,-0.7);
\node[gl, text=cytoblue] at (axis cs:6.07,-1.2) {NEFM}; \draw[ld] (axis cs:6.0,-1.0) -- (axis cs:6.11,-0.76);
\node[gl] at (axis cs:1.15,-3.68) {UBA1}; \draw[ld] (axis cs:1.25,-3.83) -- (axis cs:1.34,-3.97);
\end{axis}
\node[tx, anchor=west] at (445pt,-684pt) {Day 7 Neuron: \textit{UBA1} knockdown vs. control};
\node[tx, rotate=90] at (416.7pt,-813pt) {Log2 fold change};
\node[tx] at (616.7pt,-934.3pt) {Log\textsubscript{2} mean expression};
\node[tx, anchor=west, text=chapred] at (727.7pt,-740pt) {Chaperone};
\node[tx, anchor=west, text=cytoblue] at (727.7pt,-750pt) {Cytoskeleton};
\node[tx, anchor=west, text=antigreen] at (727.7pt,-760.3pt) {Annexins};
\node[tx, anchor=west] at (727.7pt,-770.7pt) {Other genes};
\end{tikzpicture}
\end{document}
